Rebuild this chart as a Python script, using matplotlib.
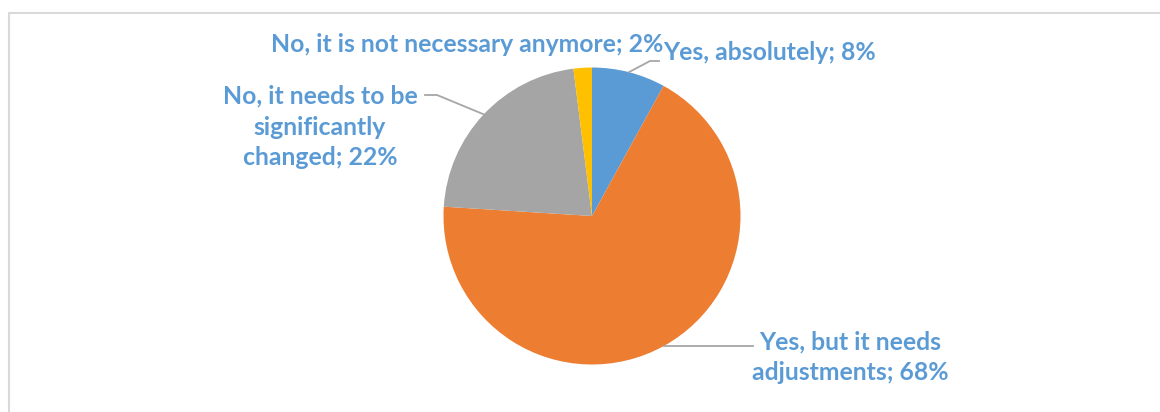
import numpy as np
import matplotlib.pyplot as plt
from matplotlib.patches import Rectangle

labels = ['Yes, absolutely; 8%',
          'Yes, but it needs\nadjustments; 68%',
          'No, it needs to be\nsignificantly\nchanged; 22%',
          'No, it is not necessary anymore; 2%']
values = [8, 68, 22, 2]
colors = ['#5B9BD5', '#ED7D31', '#A5A5A5', '#FFC000']

W, H = 1160, 412
fig = plt.figure(figsize=(W / 100, H / 100), dpi=100)
ax = fig.add_axes([0, 0, 1, 1])

# chart frame (cropped on right / bottom)
ax.add_patch(Rectangle((9, -20), W + 40, H - 13 + 20, fill=False,
                       edgecolor='#D9D9D9', lw=1.5))

cx, cy, r = 592, H - 216, 148.5
wedges, _ = ax.pie(values, colors=colors, startangle=90, counterclock=False,
                   center=(cx, cy), radius=r, frame=True,
                   wedgeprops=dict(linewidth=0))
ax.set_xlim(0, W)
ax.set_ylim(0, H)
ax.set_aspect('auto')
ax.axis('off')

txt = dict(color='#5B9BD5', fontsize=17.8, fontweight='bold', family=['Lato', 'DejaVu Sans'])
line = dict(color='#A6A6A6', lw=1.3)

def edge_point(w):
    a = np.deg2rad((w.theta1 + w.theta2) / 2)
    return cx + r * np.cos(a), cy + r * np.sin(a)

# Yes, absolutely
ex, ey = edge_point(wedges[0])
ax.plot([ex, 650, 659], [ey, H - 61, H - 61], **line)
ax.text(663, H - 52, labels[0], ha='left', va='center', **txt)

# Yes, but it needs adjustments
ex, ey = edge_point(wedges[1])
ax.plot([ex, 753], [ey, ey], **line)
ax.text(850, H - 357, labels[1], ha='center', va='center', linespacing=1.4, **txt)

# No, significantly changed
ex, ey = edge_point(wedges[2])
ax.plot([ex, 437, 425], [ey, H - 95, H - 95], **line)
ax.text(320, H - 127, labels[2], ha='center', va='center', linespacing=1.4, **txt)

# No, not necessary anymore
ax.text(663, H - 44, labels[3], ha='right', va='center', **txt)

fig.savefig('out.png', dpi=100)
